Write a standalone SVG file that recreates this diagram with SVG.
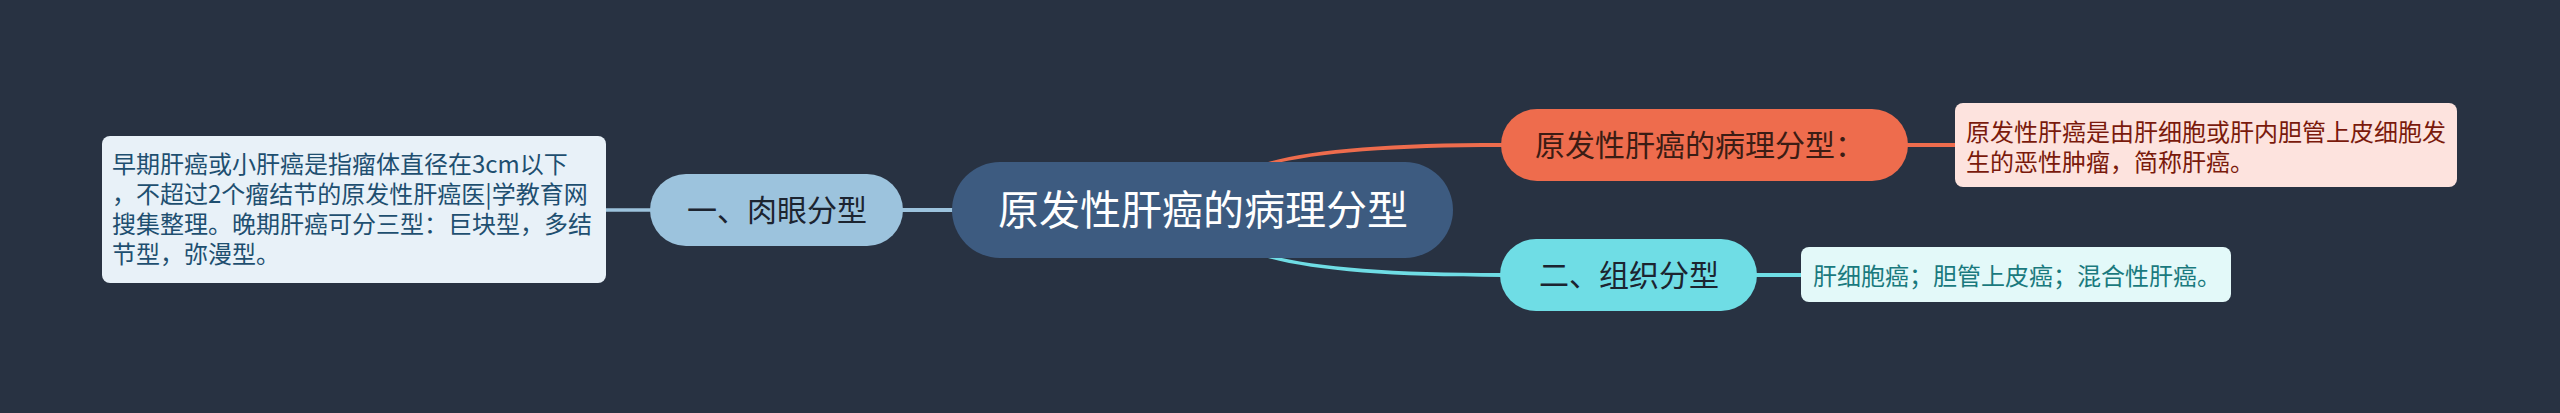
<svg xmlns="http://www.w3.org/2000/svg" width="2560" height="413" viewBox="0 0 2560 413">
<style>
text{font-family:"Noto Sans CJK SC","Noto Sans",sans-serif;}
.root{font-size:41px;fill:#ffffff;}
.l1{font-size:30px;fill:#1c2430;}
.leaf{font-size:24px;}
</style>
<rect x="0" y="0" width="2560" height="413" fill="#283242"/>
<g id="connectors">
<line x1="606" y1="210" x2="652" y2="210" stroke="#9cc3dd" stroke-width="3.5"/>
<line x1="900" y1="210" x2="955" y2="210" stroke="#9cc3dd" stroke-width="4"/>
<path d="M1203,208.5 C1215,163 1300,143 1502,143 L1502,147 C1300,147 1215,166 1203,211.5 Z" fill="#ee6c4d"/>
<path d="M1203,208.5 C1215,254 1300,273 1502,273 L1502,277 C1300,277 1215,257 1203,211.5 Z" fill="#6fdde5"/>
<line x1="1905" y1="145" x2="1957" y2="145" stroke="#ee6c4d" stroke-width="4"/>
<line x1="1754" y1="275" x2="1803" y2="275" stroke="#6fdde5" stroke-width="4"/>
</g>
<g id="root">
<rect x="952" y="162" width="501" height="96" rx="48" fill="#3d5b80"/>
<text class="root" x="1203" y="225" text-anchor="middle">原发性肝癌的病理分型</text>
</g>
<g id="n-rouyan">
<rect x="650" y="174" width="253" height="72" rx="36" fill="#9cc3dd"/>
<text class="l1" x="777" y="221" text-anchor="middle">一、肉眼分型</text>
</g>
<g id="leaf-rouyan">
<rect x="102" y="136" width="504" height="147" rx="8" fill="#e8f1f8"/>
<text class="leaf" fill="#1e4f70"><tspan x="112" y="173">早期肝癌或小肝癌是指瘤体直径在3cm以下</tspan><tspan x="112" y="203">，不超过2个瘤结节的原发性肝癌医|学教育网</tspan><tspan x="112" y="233">搜集整理。晚期肝癌可分三型：巨块型，多结</tspan><tspan x="112" y="263">节型，弥漫型。</tspan></text>
</g>
<g id="n-bingli">
<rect x="1501" y="109" width="407" height="72" rx="36" fill="#ee6c4d"/>
<text class="l1" x="1535" y="156" style="fill:#3b1c14">原发性肝癌的病理分型：</text>
</g>
<g id="leaf-bingli">
<rect x="1955" y="103" width="502" height="84" rx="8" fill="#fde3de"/>
<text class="leaf" fill="#7a1a0c"><tspan x="1966" y="141">原发性肝癌是由肝细胞或肝内胆管上皮细胞发</tspan><tspan x="1966" y="171">生的恶性肿瘤，简称肝癌。</tspan></text>
</g>
<g id="n-zuzhi">
<rect x="1500" y="239" width="257" height="72" rx="36" fill="#6fdde5"/>
<text class="l1" x="1629" y="286" text-anchor="middle">二、组织分型</text>
</g>
<g id="leaf-zuzhi">
<rect x="1801" y="247" width="430" height="55" rx="8" fill="#e3f9f9"/>
<text class="leaf" x="1813" y="285" fill="#1a7a7e">肝细胞癌；胆管上皮癌；混合性肝癌。</text>
</g>
</svg>
